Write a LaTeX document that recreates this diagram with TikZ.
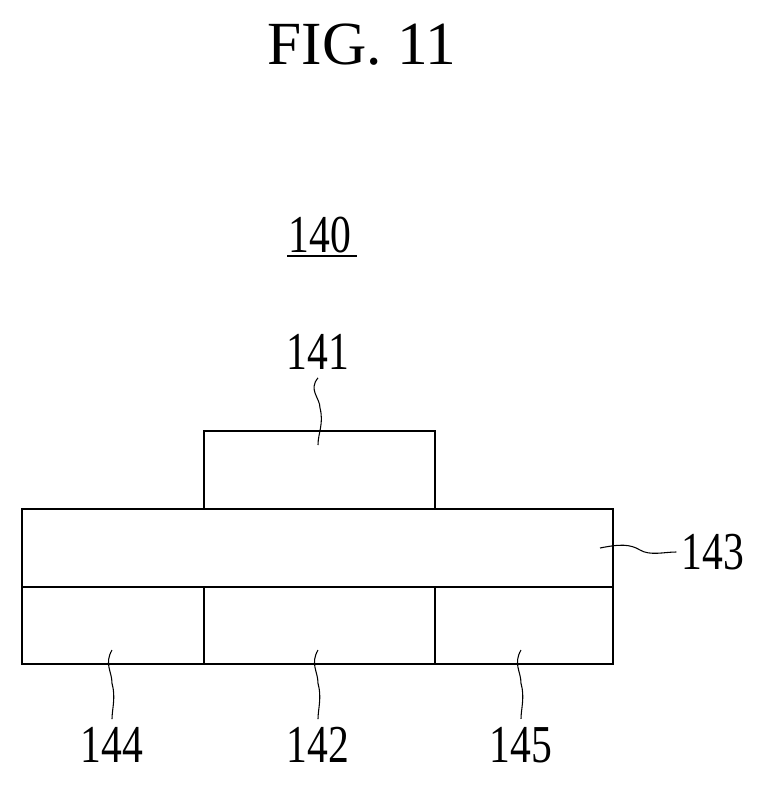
\documentclass[tikz,border=0pt]{standalone}
\usepackage{fontspec}
\setmainfont{Liberation Serif}
\begin{document}
\begin{tikzpicture}[x=0.75pt,y=-0.75pt,
    lbl/.style={font=\fontsize{40}{40}\selectfont,xscale=0.78,inner sep=0pt},
    part/.style={draw=black,line width=1.2pt},
    lead/.style={draw=black,line width=0.8pt}]
  \useasboundingbox (0,0) rectangle (763,788);
  \node[font=\fontsize{46}{46}\selectfont,inner sep=0pt] (fig) at (362,45) {FIG. 11};
  \node[lbl] (n140) at (320,235) {140};
  \draw[lead] (287,256) -- (357,256);
  % layers
  \draw[part] (204,509) rectangle (435,431);
  \draw[part] (22,509) rectangle (613,587);
  \draw[part] (22,587) rectangle (204,664);
  \draw[part] (204,587) rectangle (435,664);
  \draw[part] (435,587) rectangle (613,664);
  % labels
  \node[lbl] (n141) at (318,352) {141};
  \node[lbl] (n143) at (713,552) {143};
  \node[lbl] (n144) at (112,745) {144};
  \node[lbl] (n142) at (318,745) {142};
  \node[lbl] (n145) at (521,745) {145};
  \coordinate (t141) at (318,445);
  \coordinate (t143) at (600,548);
  \coordinate (t144) at (112,650);
  \coordinate (t142) at (318,650);
  \coordinate (t145) at (521,650);
  % leaders
  \draw[lead] (n141.south) ++(0,8) .. controls +(-10,12) and +(0,-10) .. +(2,30)
     .. controls +(4,16) and +(0,-12) .. (t141);
  \draw[lead] (t143) .. controls +(20,-4) and +(-10,-6) .. (640,550)
     .. controls +(10,6) and +(-12,0) .. ([xshift=-4pt]n143.west);
  \foreach \n in {144,142,145}{
    \draw[lead] (t\n) .. controls +(-8,14) and +(0,-12) .. ([yshift=-25pt]t\n)
       .. controls +(4,14) and +(0,-10) .. ([yshift=6pt]n\n.north);
  }
\end{tikzpicture}
\end{document}
